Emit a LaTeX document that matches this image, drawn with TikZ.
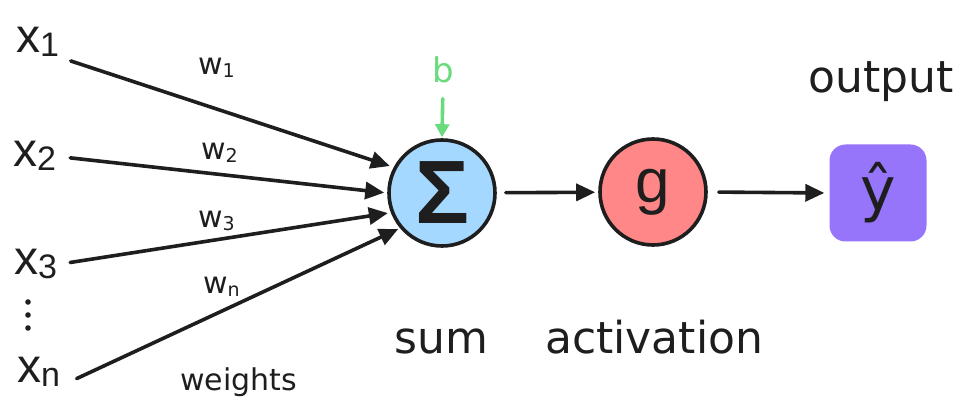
\documentclass[tikz,border=0pt]{standalone}
\usepackage{fontspec}
\setmainfont{DejaVu Sans}
\newfontfamily\xf{Liberation Sans}
\usetikzlibrary{arrows.meta}
\definecolor{ink}{HTML}{1E1E1E}
\definecolor{sumfill}{HTML}{A5D8FF}
\definecolor{actfill}{HTML}{FF8787}
\definecolor{outfill}{HTML}{9775FA}
\definecolor{biasgreen}{HTML}{69DB7C}
\newcommand\xvar[1]{{\xf\fontsize{48}{48}\selectfont x}{\xf\fontsize{34}{34}\selectfont\raisebox{-4pt}{#1}}}
\newcommand\wvar[1]{w{\fontsize{19}{19}\selectfont\raisebox{-3pt}{#1}}}
\begin{document}
\begin{tikzpicture}[x=1pt,y=-1pt,
  conn/.style={draw=ink, line width=3.6pt, line cap=round, -{Triangle[length=19pt,width=17pt]}},
  xlab/.style={inner sep=0pt, anchor=base west, text=ink},
  wlab/.style={inner sep=0pt, anchor=base west, text=ink, font=\fontsize{30}{30}\selectfont},
  caplab/.style={inner sep=0pt, anchor=base west, text=ink, font=\fontsize{44}{44}\selectfont},
  unit/.style={circle, draw=ink, line width=3.6pt, minimum size=106pt, inner sep=0pt, text=ink}]
\useasboundingbox (0,0) rectangle (971,411);
% inputs
\node[xlab] (x1) at (16,53) {\xvar{1}};
\node[xlab] (x2) at (13,167) {\xvar{2}};
\node[xlab] (x3) at (14,275) {\xvar{3}};
\node[xlab] (xn) at (17,382) {\xvar{n}};
\fill[ink] (28,302) circle[radius=2.8pt] (28,315) circle[radius=2.8pt] (28,328) circle[radius=2.8pt];
% units
\node[unit, fill=sumfill, font=\xf\bfseries\fontsize{90}{90}\selectfont] (sig) at (442,193) {\raisebox{-2pt}{Σ}};
\node[unit, fill=actfill, font=\xf\fontsize{62}{62}\selectfont] (g) at (653,192) {\raisebox{6pt}{g}};
\node[fill=outfill, rounded corners=16pt, minimum width=97pt, minimum height=97pt, inner sep=0pt, text=ink, font=\fontsize{60}{60}\selectfont] (yhat) at (878,193) {ŷ};
% bias
\node[inner sep=0pt, anchor=base, text=biasgreen, font=\fontsize{34}{34}\selectfont] (b) at (443,83) {b};
\draw[draw=biasgreen, line width=3.6pt, line cap=round, -{Triangle[length=13pt,width=14pt]}, shorten <=15pt, shorten >=1pt] (b.south) -- (sig.north);
% connectors
\draw[conn, shorten <=12pt, shorten >=4pt] (x1.south east) -- (sig.152);
\draw[conn, shorten <=14pt, shorten >=3pt] (x2.east) -- (sig.180);
\draw[conn, shorten <=13pt, shorten >=3pt] (x3.east) -- (sig.201);
\draw[conn, shorten <=18pt, shorten >=2pt] (xn.south east) -- (sig.220);
\draw[conn, shorten <=9pt, shorten >=3pt] (sig) -- (g);
\draw[conn, shorten <=11pt, shorten >=5pt] (g.east) -- (yhat.west);
% labels
\node[wlab] (w1) at (198,75) {\wvar{1}};
\node[wlab] (w2) at (201,160) {\wvar{2}};
\node[wlab] (w3) at (198,228) {\wvar{3}};
\node[wlab] (wn) at (203,294) {\wvar{n}};
\node[inner sep=0pt, anchor=base west, text=ink, font=\fontsize{30}{30}\selectfont] (wt) at (180,390) {weights};
\node[caplab] (sumlab) at (394,353) {sum};
\node[caplab] (actlab) at (545,353) {activation};
\node[caplab] (outlab) at (808,93) {output};
\end{tikzpicture}
\end{document}
